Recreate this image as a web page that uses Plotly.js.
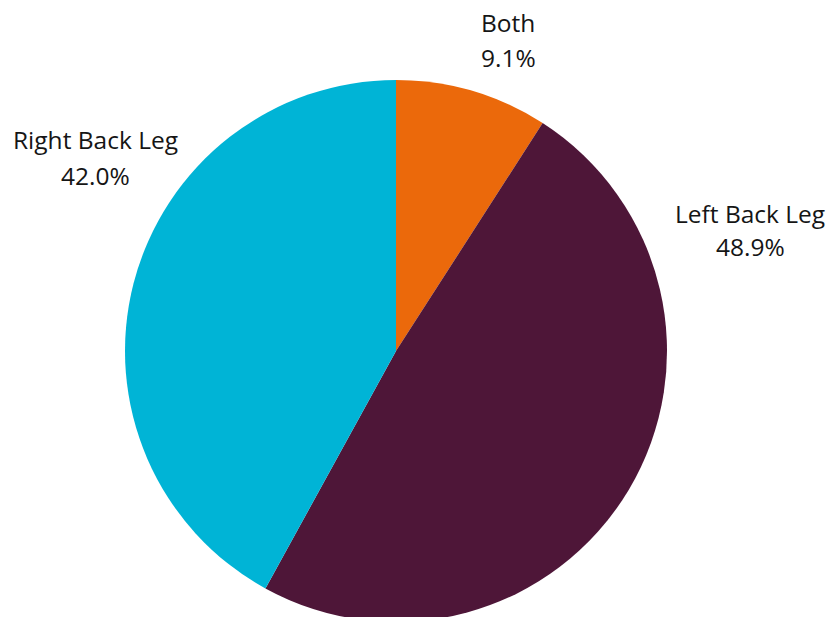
<!DOCTYPE html>
<html><head><meta charset="utf-8">
<script src="https://cdn.plot.ly/plotly-3.0.1.min.js"></script>
<style>html,body{margin:0;padding:0;overflow:hidden;background:#fff}</style>
</head><body><div id="chart" style="width:831px;height:700px"></div>
<script>
const labels = ["Both", "Left Back Leg", "Right Back Leg"];
const percents = [9.1, 48.9, 42.0];
const colors = ["#EB690B", "#4E1638", "#00B4D6"];

// label anchor positions (paper coords) for the two-line outside labels
const labelPos = [
  {x: 508/831, yName: 1-22/700, yPct: 1-58/700},
  {x: 750/831, yName: 1-213/700, yPct: 1-246/700},
  {x: 95/831, yName: 1-140/700, yPct: 1-175/700}
];
const font = {family: "Open Sans, sans-serif", size: 24.5, color: "#151515"};
const annotations = [];
labels.forEach((l, i) => {
  annotations.push({text: l, x: labelPos[i].x, y: labelPos[i].yName, xref: "paper", yref: "paper",
    showarrow: false, xanchor: "center", yanchor: "middle", font: font});
  annotations.push({text: percents[i].toFixed(1) + "%", x: labelPos[i].x, y: labelPos[i].yPct, xref: "paper", yref: "paper",
    showarrow: false, xanchor: "center", yanchor: "middle", font: font});
});

Plotly.newPlot("chart", [{
  type: "pie",
  labels: labels,
  values: percents,
  sort: false,
  direction: "clockwise",
  rotation: 0,
  marker: {colors: colors, line: {width: 0}},
  textinfo: "none",
  hoverinfo: "label+percent",
  domain: {x: [125/831, 667/831], y: [1-622/700, 1-80/700]}
}], {
  width: 831, height: 700,
  margin: {l: 0, r: 0, t: 0, b: 0},
  showlegend: false,
  paper_bgcolor: "#fff",
  annotations: annotations
}, {displayModeBar: false, staticPlot: true});
</script></body></html>
